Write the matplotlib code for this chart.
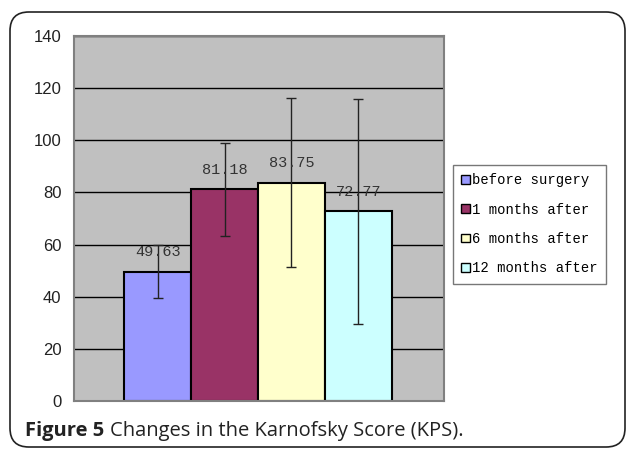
import matplotlib

matplotlib.use("Agg")
import matplotlib.pyplot as plt
from matplotlib.patches import FancyBboxPatch, Patch

# KPS at each follow-up point (mean +/- SD)
GROUPS = ["before surgery", "1 months after", "6 months after", "12 months after"]
MEANS = [49.63, 81.18, 83.75, 72.77]
ERRORS = [10.2, 17.8, 32.4, 43.2]
COLORS = ["#9999FF", "#993366", "#FFFFCC", "#CCFFFF"]
YTICKS = [0, 20, 40, 60, 80, 100, 120, 140]
CAPTION_BOLD = "Figure 5"
CAPTION = "Changes in the Karnofsky Score (KPS)."

W, H = 629, 451
fig = plt.figure(figsize=(W / 100, H / 100), dpi=100)

# rounded outer frame
frame = FancyBboxPatch(
    (10 / W, 4 / H), 615 / W, 435 / H,
    boxstyle="round,pad=0,rounding_size=0.03",
    transform=fig.transFigure, facecolor="none", edgecolor="#222222", linewidth=1.2,
    mutation_aspect=W / H, zorder=-1,
)
fig.patches.append(frame)

ax = fig.add_axes([74 / W, 1 - 401 / H, 370 / W, 365 / H])
ax.set_facecolor("#C0C0C0")
positions = list(range(len(MEANS)))
ax.bar(positions, MEANS, width=1.0, color=COLORS, edgecolor="black", linewidth=1.5, zorder=2)
ax.errorbar(positions, MEANS, yerr=ERRORS, fmt="none", ecolor="#222222", elinewidth=1.0,
            capsize=3.5, capthick=1.0, zorder=3)
for x, m in zip(positions, MEANS):
    ax.annotate(f"{m:.2f}", (x, m), xytext=(0, 14), textcoords="offset points",
                ha="center", va="center", fontsize=11, family="Liberation Mono", color="#333333", zorder=4)

ax.set_xlim(-1.25, 4.28)
ax.set_ylim(0, 140)
ax.set_yticks(YTICKS)
ax.set_yticklabels([str(v) for v in YTICKS], family="Liberation Sans", fontsize=12, color="#222222")
ax.set_xticks([])
ax.tick_params(axis="y", length=0, pad=9)
ax.yaxis.grid(True, color="black", linewidth=1.0, zorder=1)
ax.set_axisbelow(True)
for spine in ax.spines.values():
    spine.set_color("#808080")
    spine.set_linewidth(1.5)

handles = [Patch(facecolor=c, edgecolor="black", linewidth=1.0) for c in COLORS]
leg = fig.legend(handles, GROUPS, loc="upper left", bbox_to_anchor=(453 / W, 1 - 165 / H),
                 prop={"family": "Liberation Mono", "size": 10}, frameon=True, fancybox=False,
                 handlelength=0.6, handleheight=0.6, handletextpad=0.2, labelspacing=1.1,
                 borderpad=0.6, borderaxespad=0)
leg.get_frame().set_edgecolor("#555555")
leg.get_frame().set_linewidth(1.0)

fig.text(25 / W, 1 - 431 / H, CAPTION_BOLD, fontsize=14.5, fontweight="bold",
         family="Open Sans", va="center", ha="left", color="#222222")
fig.text(110 / W, 1 - 431 / H, CAPTION, fontsize=14.5, family="Open Sans",
         va="center", ha="left", color="#222222")

fig.savefig("out.png", dpi=100)
